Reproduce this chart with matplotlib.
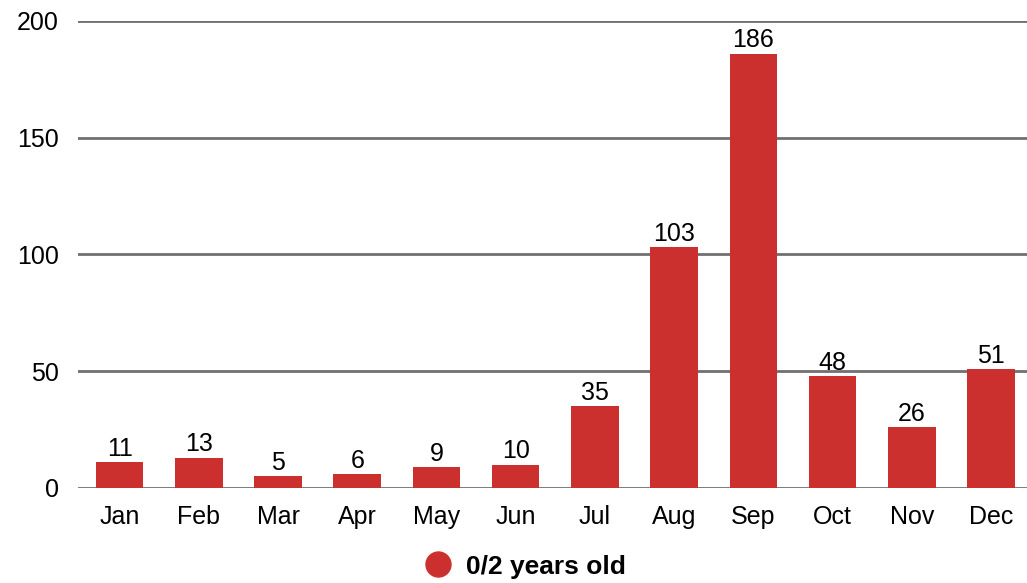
import matplotlib
matplotlib.use("Agg")
import matplotlib.pyplot as plt
import matplotlib.lines as mlines

# data
months = ["Jan", "Feb", "Mar", "Apr", "May", "Jun",
          "Jul", "Aug", "Sep", "Oct", "Nov", "Dec"]
counts = [11, 13, 5, 6, 9, 10, 35, 103, 186, 48, 26, 51]
series_name = "0/2 years old"
y_ticks = [0, 50, 100, 150, 200]

BAR_COLOR = "#CC302E"
GRID_COLOR = "#707070"

plt.rcParams.update({"font.family": ["Liberation Sans", "DejaVu Sans"],
                     "font.size": 18})

fig = plt.figure(figsize=(10.27, 5.83), dpi=100)
ax = fig.add_axes([0.076, 0.163, 0.924, 0.801])

x = list(range(len(months)))
ax.bar(x, counts, width=0.6, color=BAR_COLOR, zorder=3)

# value labels above bars
for xi, v in zip(x, counts):
    ax.annotate(str(v), (xi, v), xytext=(0, 1), textcoords="offset points",
                ha="center", va="bottom", fontsize=18, color="black")

ax.set_xlim(-0.524, 11.454)
ax.set_ylim(0, 200)
ax.set_yticks(y_ticks)
ax.set_xticks(x)
ax.set_xticklabels(months)
for t in y_ticks:
    ax.axhline(t, color=GRID_COLOR, lw=2, zorder=1)

for s in ax.spines.values():
    s.set_visible(False)
ax.tick_params(axis="both", length=0, labelsize=18)
ax.tick_params(axis="y", pad=14)
ax.tick_params(axis="x", pad=12)

handle = mlines.Line2D([], [], marker="o", linestyle="None", markersize=18,
                       markerfacecolor=BAR_COLOR, markeredgecolor=BAR_COLOR,
                       label=series_name)
fig.legend(handles=[handle], loc="center", bbox_to_anchor=(0.505, 0.028),
           frameon=False, prop={"weight": "bold", "size": 19},
           handletextpad=0.05, borderpad=0)

fig.savefig("out.png", dpi=100, facecolor="white")
